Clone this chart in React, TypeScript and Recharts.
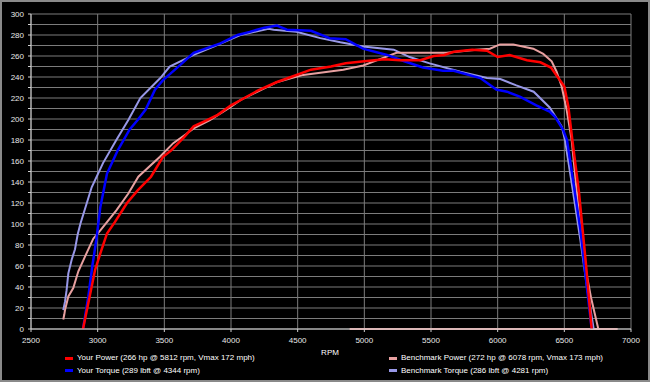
import { LineChart, Line, XAxis, YAxis, CartesianGrid } from 'recharts';

// Your car
const yourPowerRpm = [2890, 2940, 2980, 3020, 3070, 3130, 3220, 3300, 3400, 3490, 3550, 3650, 3720, 3820, 3900, 4000, 4100, 4200, 4340, 4450, 4600, 4750, 4860, 5000, 5150, 5270, 5420, 5520, 5600, 5670, 5810, 5920, 6000, 6090, 6220, 6320, 6400, 6450, 6500, 6530, 6560, 6610, 6660, 6705];
const yourPowerHp = [0, 31, 56, 72, 91, 102, 120, 132, 145, 164, 170, 183, 193, 199, 204, 213, 220, 227, 235, 240, 247, 250, 253, 255, 257, 256, 256, 260, 261, 264, 266, 265, 259, 261, 256, 254, 249, 240, 231, 212, 180, 130, 65, 0];

const yourTorqueRpm = [2890, 2930, 2960, 2990, 3020, 3070, 3150, 3240, 3300, 3360, 3430, 3490, 3580, 3720, 3920, 4050, 4140, 4250, 4344, 4420, 4600, 4740, 4860, 4990, 5170, 5300, 5440, 5590, 5670, 5870, 5990, 6070, 6170, 6290, 6390, 6430, 6490, 6520, 6565, 6620, 6660, 6705];
const yourTorqueLbft = [0, 31, 60, 85, 116, 148, 170, 190, 199, 209, 228, 237, 247, 263, 272, 280, 283, 287, 289, 285, 284, 277, 276, 267, 261, 255, 249, 246, 246, 239, 228, 226, 221, 213, 207, 202, 190, 180, 142, 95, 50, 0];

// Benchmark car
const benchPowerRpm = [2742, 2750, 2755, 2780, 2817, 2855, 2905, 2967, 3020, 3140, 3230, 3305, 3467, 3567, 3667, 3720, 3842, 3992, 4070, 4342, 4542, 4842, 4992, 5117, 5242, 5342, 5617, 5842, 5942, 6017, 6117, 6267, 6342, 6405, 6442, 6480, 6517, 6555, 6600, 6642, 6700, 6755];
const benchPowerHp = [9, 14, 18, 31, 39, 55, 69, 86, 94, 113, 129, 145, 164, 177, 186, 191, 199, 211, 218, 235, 242, 247, 251, 257, 263, 263, 263, 266, 267, 271, 271, 267, 262, 255, 245, 231, 209, 180, 122, 69, 30, 0];

const benchTorqueRpm = [2742, 2755, 2767, 2780, 2805, 2830, 2850, 2870, 2955, 3040, 3140, 3230, 3320, 3470, 3540, 3720, 3870, 4070, 4281, 4320, 4490, 4670, 4820, 4990, 5220, 5340, 5490, 5720, 5920, 6020, 6140, 6270, 6390, 6480, 6505, 6560, 6620, 6670, 6720];
const benchTorqueLbft = [18, 26, 37, 53, 66, 76, 90, 100, 135, 158, 180, 199, 220, 239, 250, 261, 269, 280, 286, 285, 283, 277, 273, 269, 266, 259, 253, 245, 239, 238, 232, 226, 211, 193, 180, 135, 85, 40, 0];

// flat benchmark trace sitting on the zero line
const benchTailRpm = [4890, 6900];
const benchTailHp = [0, 0];

const xTicks = [2500, 3000, 3500, 4000, 4500, 5000, 5500, 6000, 6500, 7000];
const yTicks = [0, 10, 20, 30, 40, 50, 60, 70, 80, 90, 100, 110, 120, 130, 140, 150, 160, 170, 180, 190, 200, 210, 220, 230, 240, 250, 260, 270, 280, 290, 300];

const legendLeft = [
  { label: 'Your Power (266 hp @ 5812 rpm, Vmax 172 mph)', color: '#ff0000' },
  { label: 'Your Torque (289 lbft @ 4344 rpm)', color: '#0000ff' },
];
const legendRight = [
  { label: 'Benchmark Power (272 hp @ 6078 rpm, Vmax 173 mph)', color: '#e8a0a0' },
  { label: 'Benchmark Torque (286 lbft @ 4281 rpm)', color: '#9898e8' },
];

const toPoints = (rpm: number[], vals: number[]) => rpm.map((r, i) => ({ rpm: r, v: vals[i] }));

const font = '"Liberation Sans", Arial, sans-serif';

const YTick = (props: any) => {
  const { x, y, payload } = props;
  if (payload.value % 20 !== 0) return <g />;
  return (
    <text x={x - 2} y={y} dy={3} textAnchor="end" fill="#e8e8e8" fontSize={8} fontFamily={font}>
      {payload.value}
    </text>
  );
};

const XTick = (props: any) => {
  const { x, y, payload } = props;
  return (
    <text x={x} y={y} dy={9} textAnchor="middle" fill="#e8e8e8" fontSize={8} fontFamily={font}>
      {payload.value}
    </text>
  );
};

function LegendColumn({ items, left }: { items: { label: string; color: string }[]; left: number }) {
  return (
    <>
      {items.map((it, i) => (
        <div key={it.label} style={{ position: 'absolute', left, top: 353 + i * 12.5, height: 10, display: 'flex', alignItems: 'center' }}>
          <div style={{ width: 8, height: 3, background: it.color, marginRight: 4 }} />
          <span style={{ color: '#ffffff', fontSize: 8, fontFamily: font, lineHeight: '10px', whiteSpace: 'nowrap' }}>{it.label}</span>
        </div>
      ))}
    </>
  );
}

export default function App() {
  return (
    <div style={{ position: 'fixed', left: 0, top: 0, width: 650, height: 382, background: '#000' }}>
      <LineChart width={650} height={382} margin={{ top: 14, right: 19, left: 0, bottom: 33 }}>
        <CartesianGrid stroke="#7c7c7c" strokeWidth={1} vertical horizontal />
        <XAxis
          type="number"
          dataKey="rpm"
          domain={[2500, 7000]}
          ticks={xTicks}
          allowDataOverflow
          height={20}
          stroke="#d0d0d0"
          tickSize={3}
          tick={<XTick />}
        />
        <YAxis
          type="number"
          domain={[0, 300]}
          ticks={yTicks}
          width={31}
          stroke="#d0d0d0"
          tickSize={3}
          tick={<YTick />}
          interval={0}
        />
        <Line data={toPoints(benchTailRpm, benchTailHp)} dataKey="v" stroke="#e8a0a0" strokeWidth={2} dot={false} isAnimationActive={false} />
        <Line data={toPoints(benchTorqueRpm, benchTorqueLbft)} dataKey="v" stroke="#9898e8" strokeWidth={2} dot={false} isAnimationActive={false} />
        <Line data={toPoints(benchPowerRpm, benchPowerHp)} dataKey="v" stroke="#e8a0a0" strokeWidth={2} dot={false} isAnimationActive={false} />
        <Line data={toPoints(yourTorqueRpm, yourTorqueLbft)} dataKey="v" stroke="#0000ff" strokeWidth={2.5} dot={false} isAnimationActive={false} />
        <Line data={toPoints(yourPowerRpm, yourPowerHp)} dataKey="v" stroke="#ff0000" strokeWidth={2.5} dot={false} isAnimationActive={false} />
      </LineChart>
      <div style={{ position: 'absolute', left: 310, width: 40, top: 348, textAlign: 'center', color: '#ffffff', fontSize: 8, fontFamily: font, lineHeight: '10px' }}>
        RPM
      </div>
      <LegendColumn items={legendLeft} left={65} />
      <LegendColumn items={legendRight} left={389} />
      <div style={{ position: 'absolute', left: 0, top: 0, width: 650, height: 382, boxSizing: 'border-box', border: '2px solid #8a8a8a', pointerEvents: 'none' }} />
    </div>
  );
}
